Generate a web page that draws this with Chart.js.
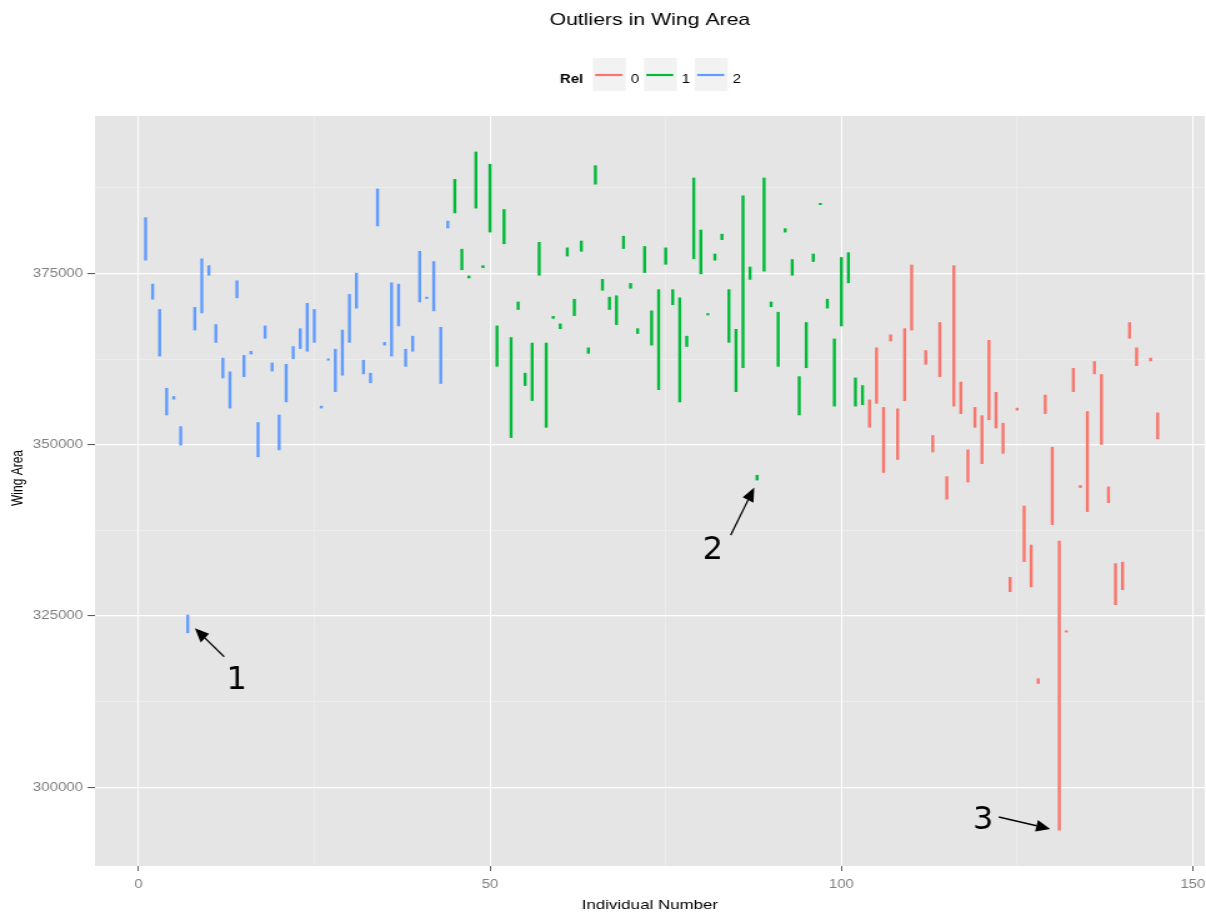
<!DOCTYPE html>
<html>
<head>
<meta charset="utf-8">
<title>Outliers in Wing Area</title>
<script src="https://cdn.jsdelivr.net/npm/chart.js@4.4.1/dist/chart.umd.min.js"></script>
<style>
    html, body { margin: 0; padding: 0; background: #fff; }
    /* reference image is stretched sideways, so draw narrow and stretch the canvas */
    #chart { display: block; width: 1206px !important; height: 915px !important; }
</style>
</head>
<body>
<canvas id="chart" width="965" height="915" style="width:1206px;height:915px"></canvas>
<script>
// Rel 2 (blue)
const rel2Ids = [1, 2, 3, 4, 5, 6, 7, 8, 9, 10, 11, 12, 13, 14, 15, 16, 17, 18, 19, 20, 21, 22,
    23, 24, 25, 26, 27, 28, 29, 30, 31, 32, 33, 34, 35, 36, 37, 38, 39, 40, 41, 42, 43, 44];
const rel2Low = [376900, 371200, 362900, 354300, 356600, 349900, 322500, 366700, 369200, 374700, 364900,
    359700, 355300, 371400, 359900, 363200, 348200, 365500, 360700, 349200, 356200, 362500,
    364000, 363600, 364900, 355300, 362300, 357700, 360100, 364900, 369900, 360300, 359000,
    381900, 364500, 362900, 367300, 361400, 363600, 370800, 371300, 369500, 358900, 381600];
const rel2High = [383200, 373500, 369800, 358300, 357100, 352700, 325200, 370100, 377200, 376200, 367600,
    362700, 360700, 374000, 363100, 363700, 353300, 367400, 362000, 354400, 361800, 364400,
    367000, 370700, 369800, 355700, 362600, 364000, 366800, 372000, 375100, 362400, 360500,
    387400, 365000, 373700, 373500, 364000, 365900, 378300, 371600, 376800, 367200, 382700];

// Rel 1 (green)
const rel1Ids = [45, 46, 47, 48, 49, 50, 51, 52, 53, 54, 55, 56, 57, 58, 59, 60, 61, 62, 63, 64,
    65, 66, 67, 68, 69, 70, 71, 72, 73, 74, 75, 76, 77, 78, 79, 80, 81, 82, 83, 84, 85, 86, 87,
    88, 89, 90, 91, 92, 93, 94, 95, 96, 97, 98, 99, 100, 101, 102, 103];
const rel1Low = [383800, 375500, 374300, 384500, 375800, 381000, 361400, 379300, 351000, 369700,
    358600, 356400, 374700, 352500, 368400, 366900, 377500, 368800, 378200, 363300, 388000,
    372500, 369700, 367500, 378600, 372800, 366200, 375100, 364500, 358000, 376300, 370400,
    356200, 364300, 377100, 374900, 368900, 376900, 379900, 364900, 357700, 361200, 374100,
    344800, 375300, 370100, 361400, 381000, 374700, 354300, 361200, 376700, 385000, 369900,
    355600, 367300, 373600, 355600, 355800];
const rel1High = [388800, 378600, 374700, 392800, 376200, 391000, 367400, 384400, 365700, 370900,
    360500, 364900, 379600, 364900, 368800, 367700, 378800, 371300, 379800, 364200, 390800,
    374200, 371600, 371800, 380500, 373600, 367000, 379000, 369600, 372700, 378800, 372700,
    371500, 365900, 389000, 381400, 369200, 377900, 380800, 372700, 366900, 386400, 376000,
    345600, 389000, 370900, 369400, 381600, 377100, 360000, 367900, 377900, 385300, 371300,
    365500, 377400, 378100, 359800, 358700];

// Rel 0 (red)
const rel0Ids = [104, 105, 106, 107, 108, 109, 110, 112, 113, 114, 115, 116, 117, 118, 119, 120,
    121, 122, 123, 124, 125, 126, 127, 128, 129, 130, 131, 132, 133, 134, 135, 136, 137, 138,
    139, 140, 141, 142, 144, 145];
const rel0Low = [352500, 356000, 345900, 365100, 347800, 356400, 366700, 361700, 348900, 359900,
    342000, 355600, 354500, 344500, 352500, 347200, 353600, 352400, 348700, 328500, 355000,
    332900, 329200, 315100, 354500, 338300, 293700, 322600, 357700, 343700, 340200, 360300,
    350000, 341500, 326600, 328800, 365500, 361500, 362200, 350800];
const rel0High = [356600, 364200, 355500, 366100, 355300, 367000, 376300, 363800, 351400, 367900,
    345400, 376200, 359200, 349300, 355500, 354300, 365300, 357700, 353200, 330700, 355400,
    341100, 335400, 315900, 357300, 349700, 336000, 322900, 361200, 344100, 354900, 362200,
    360300, 343900, 332700, 332900, 367900, 364200, 362700, 354700];

// axes
const xTicks = [0, 25, 50, 75, 100, 125, 150];
const xLabelled = [0, 50, 100, 150];
const yTicks = [300000, 312500, 325000, 337500, 350000, 362500, 375000, 387500];
const yLabelled = [300000, 325000, 350000, 375000];

// hand-drawn notes (data coordinates)
const noteLabels = ['1', '2', '3'];
const noteTextX = [13.95, 81.73, 120.15];
const noteTextY = [316100, 335060, 295660];
const noteTailX = [12.18, 84.25, 122.4];
const noteTailY = [319050, 336810, 295660];
const noteTipX = [8.01, 87.6, 129.7];
const noteTipY = [323200, 343770, 293910];

const legendLabels = ['0', '1', '2'];
const relColors = ['#F8766D', '#00BA38', '#619CFF'];

const stretch = 1206 / 965;

Chart.defaults.font.family = '"Liberation Sans", Arial, sans-serif';

const toPoints = (ids, low, high) => ids.map((id, k) => ({ x: id, y: [low[k], high[k]] }));

function drawArrow(ctx, x1, y1, x2, y2) {
    const ang = Math.atan2(y2 - y1, x2 - x1);
    const len = 14, half = 6;
    const bx = x2 - len * Math.cos(ang);
    const by = y2 - len * Math.sin(ang);
    ctx.beginPath();
    ctx.moveTo(x1, y1);
    ctx.lineTo(bx, by);
    ctx.stroke();
    ctx.beginPath();
    ctx.moveTo(x2, y2);
    ctx.lineTo(bx + half * Math.sin(ang), by - half * Math.cos(ang));
    ctx.lineTo(bx - half * Math.sin(ang), by + half * Math.cos(ang));
    ctx.closePath();
    ctx.fill();
}

const decor = {
    id: 'decor',
    beforeDraw(chart) {
        const { ctx, chartArea: a } = chart;
        ctx.save();
        ctx.fillStyle = '#ffffff';
        ctx.fillRect(0, 0, chart.width, chart.height);
        ctx.fillStyle = '#e5e5e5';
        ctx.fillRect(a.left, a.top, a.right - a.left, a.bottom - a.top);
        ctx.restore();
    },
    afterDraw(chart) {
        const ctx = chart.ctx;
        ctx.save();

        // title
        ctx.fillStyle = '#000';
        ctx.font = '17px "Liberation Sans", Arial, sans-serif';
        ctx.textAlign = 'center';
        ctx.textBaseline = 'middle';
        ctx.fillText('Outliers in Wing Area', (chart.chartArea.left + chart.chartArea.right) / 2, 20);

        // y axis title
        ctx.save();
        ctx.translate(14.4, 478);
        ctx.rotate(-Math.PI / 2);
        ctx.font = '12px "Liberation Sans", Arial, sans-serif';
        ctx.fillText('Wing Area', 0, 0);
        ctx.restore();

        // legend
        ctx.font = 'bold 12px "Liberation Sans", Arial, sans-serif';
        ctx.textAlign = 'left';
        ctx.textBaseline = 'alphabetic';
        ctx.fillText('Rel', 448, 83);
        const boxLeft = [474.5, 515.3, 556.1];
        boxLeft.forEach((bx, k) => {
            ctx.fillStyle = '#f2f2f2';
            ctx.fillRect(bx, 58, 26.2, 33);
            ctx.strokeStyle = relColors[k];
            ctx.lineWidth = 2.2;
            ctx.beginPath();
            ctx.moveTo(bx + 1.8, 75);
            ctx.lineTo(bx + 23.4, 75);
            ctx.stroke();
            ctx.fillStyle = '#000';
            ctx.font = '12px "Liberation Sans", Arial, sans-serif';
            ctx.textAlign = 'center';
            ctx.fillText(legendLabels[k], bx + 33.6, 83);
        });

        // notes with arrows, drawn unstretched
        const xs = chart.scales.x, ys = chart.scales.y;
        ctx.scale(1 / stretch, 1);
        const X = v => xs.getPixelForValue(v) * stretch;
        const Y = v => ys.getPixelForValue(v);
        ctx.fillStyle = '#000';
        ctx.strokeStyle = '#000';
        ctx.lineWidth = 1.5;
        ctx.font = '32px "DejaVu Sans", sans-serif';
        ctx.textAlign = 'center';
        ctx.textBaseline = 'alphabetic';
        noteLabels.forEach((t, k) => {
            ctx.fillText(t, X(noteTextX[k]), Y(noteTextY[k]) + 11.7);
            drawArrow(ctx, X(noteTailX[k]), Y(noteTailY[k]), X(noteTipX[k]), Y(noteTipY[k]));
        });
        ctx.restore();
    }
};

const isIn = (list, v) => list.indexOf(v) !== -1;

new Chart(document.getElementById('chart'), {
    type: 'bar',
    data: {
        datasets: [
            { label: '0', data: toPoints(rel0Ids, rel0Low, rel0High), backgroundColor: relColors[0] },
            { label: '1', data: toPoints(rel1Ids, rel1Low, rel1High), backgroundColor: relColors[1] },
            { label: '2', data: toPoints(rel2Ids, rel2Low, rel2High), backgroundColor: relColors[2] }
        ]
    },
    options: {
        responsive: false,
        animation: false,
        events: [],
        devicePixelRatio: 1,
        layout: { padding: { top: 116, right: 1, left: 0, bottom: 0 } },
        datasets: {
            bar: { grouped: false, barThickness: 2.4, borderWidth: 0, inflateAmount: 0 }
        },
        plugins: {
            legend: { display: false },
            title: { display: false },
            tooltip: { enabled: false }
        },
        scales: {
            x: {
                type: 'linear',
                min: -6.2,
                max: 151.7,
                offset: false,
                afterFit: s => { s.height = 49; s.paddingLeft = 0; s.paddingRight = 0; },
                afterBuildTicks: s => { s.ticks = xTicks.map(v => ({ value: v })); },
                border: { display: false },
                grid: {
                    offset: false,
                    color: c => isIn(xLabelled, c.tick.value) ? '#ffffff' : '#f2f2f2',
                    lineWidth: c => isIn(xLabelled, c.tick.value) ? 1 : 0.5,
                    tickColor: c => isIn(xLabelled, c.tick.value) ? '#4d4d4d' : 'rgba(0,0,0,0)',
                    tickLength: 5,
                    tickWidth: 0.9
                },
                ticks: {
                    autoSkip: false,
                    maxRotation: 0,
                    padding: 6,
                    color: '#7f7f7f',
                    font: { size: 12 },
                    callback: v => isIn(xLabelled, v) ? String(v) : ''
                },
                title: {
                    display: true,
                    text: 'Individual Number',
                    color: '#000',
                    font: { size: 13.5 },
                    padding: { top: 0, bottom: 2 }
                }
            },
            y: {
                type: 'linear',
                min: 288500,
                max: 398000,
                afterFit: s => { s.width = 76; s.paddingTop = 0; s.paddingBottom = 0; },
                afterBuildTicks: s => { s.ticks = yTicks.map(v => ({ value: v })); },
                border: { display: false },
                grid: {
                    color: c => isIn(yLabelled, c.tick.value) ? '#ffffff' : '#f2f2f2',
                    lineWidth: c => isIn(yLabelled, c.tick.value) ? 1.2 : 0.6,
                    tickColor: c => isIn(yLabelled, c.tick.value) ? '#4d4d4d' : 'rgba(0,0,0,0)',
                    tickLength: 6,
                    tickWidth: 1
                },
                ticks: {
                    autoSkip: false,
                    padding: 3.6,
                    color: '#7f7f7f',
                    font: { size: 12 },
                    callback: v => isIn(yLabelled, v) ? String(v) : ''
                },
                title: { display: false }
            }
        }
    },
    plugins: [decor]
});
</script>
</body>
</html>
